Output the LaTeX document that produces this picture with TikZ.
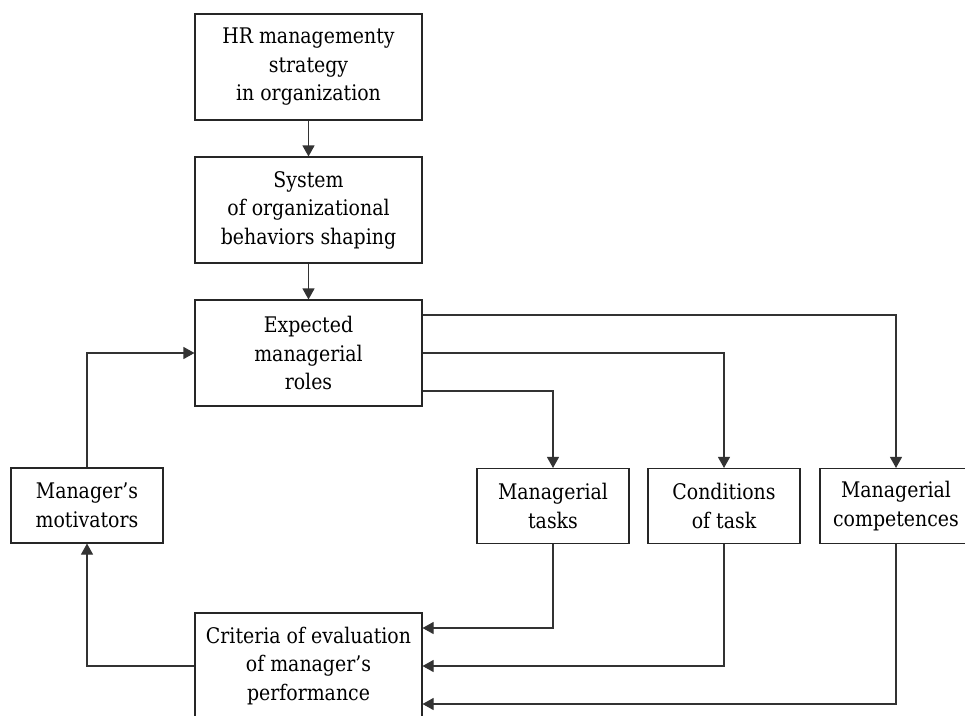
\documentclass[tikz,border=0pt]{standalone}
\usepackage{fontspec}
\setmainfont{DejaVu Serif}[FakeStretch=0.88]
\usetikzlibrary{arrows.meta}
\begin{document}
\begin{tikzpicture}[x=1pt,y=-1pt,
  box/.style={draw=black!85,line width=1.1pt,align=center,inner sep=0pt,
    font=\fontsize{21.5}{28.5}\selectfont},
  big/.style={box,minimum width=227pt,minimum height=106pt},
  small/.style={box,minimum width=152pt,minimum height=75pt},
  arr/.style={draw=black!80,line width=1.1pt,-{Triangle[width=12pt,length=11pt]}}]
\useasboundingbox (0,0) rectangle (965,715);
\clip (0,0) rectangle (965,715);
\node[big] (hr) at (308.5,67) {HR managementy\\strategy\\in organization};
\node[big] (sys) at (308.5,210) {System\\of organizational\\behaviors shaping};
\node[big] (roles) at (308.5,353) {Expected\\managerial\\roles};
\node[big] (crit) at (308.5,666) {Criteria of evaluation\\of manager’s\\performance};
\node[small] (motiv) at (87,505.5) {Manager’s\\motivators};
\node[small] (tasks) at (553,506) {Managerial\\tasks};
\node[small] (cond) at (724,506) {Conditions\\of task};
\node[small] (comp) at (896,506) {Managerial\\competences};
\draw[arr] (hr) -- (sys);
\draw[arr] (sys) -- (roles);
\draw[arr] ([yshift=38pt]roles.east) -| (comp.north);
\draw[arr] (roles.east) -| (cond.north);
\draw[arr] ([yshift=-38pt]roles.east) -| (tasks.north);
\draw[arr] (tasks.south) |- ([yshift=38pt]crit.east);
\draw[arr] (cond.south) |- (crit.east);
\draw[arr] (comp.south) |- ([yshift=-38pt]crit.east);
\draw[arr] (crit.west) -| (motiv.south);
\draw[arr] (motiv.north) |- (roles.west);
\end{tikzpicture}
\end{document}
